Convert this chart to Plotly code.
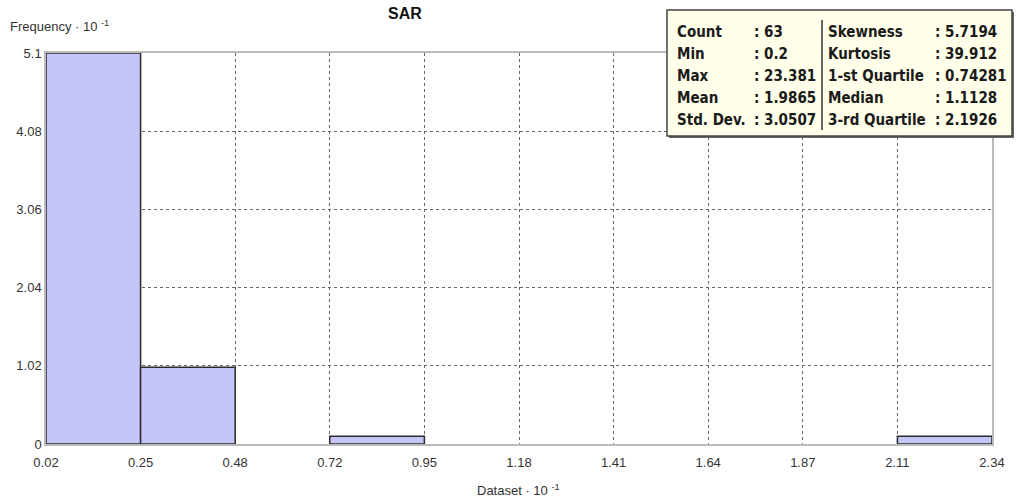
import plotly.graph_objects as go

# ---- data (units of 10^-1) ----
bin_edges = [0.02, 0.25181, 0.48362, 0.71543, 0.94724, 1.17905, 1.41086, 1.64267, 1.87448, 2.10629, 2.3381]
frequencies = [5.1, 1.0, 0.0, 0.1, 0.0, 0.0, 0.0, 0.0, 0.0, 0.1]
x_tick_labels = ["0.02", "0.25", "0.48", "0.72", "0.95", "1.18", "1.41", "1.64", "1.87", "2.11", "2.34"]
y_tick_vals = [0, 1.02, 2.04, 3.06, 4.08, 5.1]
y_tick_labels = ["0", "1.02", "2.04", "3.06", "4.08", "5.1"]

stat_names_left = ["Count", "Min", "Max", "Mean", "Std. Dev."]
stat_values_left = ["63", "0.2", "23.381", "1.9865", "3.0507"]
stat_names_right = ["Skewness", "Kurtosis", "1-st Quartile", "Median", "3-rd Quartile"]
stat_values_right = ["5.7194", "39.912", "0.74281", "1.1128", "2.1926"]

# ---- figure geometry ----
W, H = 1016, 503
L, R, T, B = 46, 24, 53, 59
pw, ph = W - L - R, H - T - B


def px(xp):
    return (xp - L) / pw


def py(yp):
    return (H - B - yp) / ph


centers, widths, heights = [], [], []
for i, f in enumerate(frequencies):
    if f > 0:
        centers.append((bin_edges[i] + bin_edges[i + 1]) / 2)
        widths.append(bin_edges[i + 1] - bin_edges[i])
        heights.append(f)

fig = go.Figure(go.Bar(
    x=centers, y=heights, width=widths,
    marker=dict(color="#c5c5fa", line=dict(color="#2a2a2a", width=1.5)),
    hoverinfo="skip",
))

FONT = "Liberation Sans"
fig.update_layout(
    width=W, height=H,
    margin=dict(l=L, r=R, t=T, b=B),
    paper_bgcolor="white", plot_bgcolor="white",
    showlegend=False,
    font=dict(family=FONT, size=13, color="#333333"),
    xaxis=dict(
        range=[bin_edges[0], bin_edges[-1]],
        tickmode="array", tickvals=bin_edges, ticktext=x_tick_labels,
        showgrid=True, gridcolor="#666666", griddash="dot", gridwidth=1,
        showline=True, linecolor="#bbbbbb", linewidth=1.5, mirror=True,
        ticks="", zeroline=False, tickfont=dict(size=13, color="#333333"),
        ticklabelstandoff=6,
    ),
    yaxis=dict(
        range=[0, 5.1],
        tickmode="array", tickvals=y_tick_vals, ticktext=y_tick_labels,
        showgrid=True, gridcolor="#666666", griddash="dot", gridwidth=1,
        showline=True, linecolor="#bbbbbb", linewidth=1.5, mirror=True,
        ticks="", zeroline=False, tickfont=dict(size=13, color="#333333"),
    ),
)

annotations = [
    dict(text="<b>SAR</b>", x=px(405), y=py(13), xref="paper", yref="paper",
         xanchor="center", yanchor="middle", showarrow=False,
         font=dict(size=16, color="#111111", family=FONT)),
    dict(text="Frequency · 10 <sup>-1</sup>", x=px(8), y=py(26), xref="paper", yref="paper",
         xanchor="left", yanchor="middle", showarrow=False,
         font=dict(size=13, color="#333333", family=FONT)),
    dict(text="Dataset · 10 <sup>-1</sup>", x=px(518), y=py(490), xref="paper", yref="paper",
         xanchor="center", yanchor="middle", showarrow=False,
         font=dict(size=13, color="#333333", family=FONT)),
]

# stats box
bx0, bx1, by0, by1 = 667, 1012, 10, 136
shapes = [
    dict(type="rect", xref="paper", yref="paper", x0=px(bx0 + 2), x1=px(bx1 + 2), y0=py(by1 + 2), y1=py(by0 + 2),
         fillcolor="#666666", line=dict(width=0), layer="above"),
    dict(type="rect", xref="paper", yref="paper", x0=px(bx0), x1=px(bx1), y0=py(by1), y1=py(by0),
         fillcolor="#ffffea", line=dict(color="#444444", width=1.5), layer="above"),
    dict(type="line", xref="paper", yref="paper", x0=px(822), x1=px(822), y0=py(130), y1=py(20),
         line=dict(color="#333333", width=1.5), layer="above"),
]

row_y = [32, 54, 76, 98, 120]
sfont = dict(size=15, color="#1a1a1a", family="DejaVu Sans Condensed, DejaVu Sans")
for i in range(5):
    for xpos, txt in [(675, stat_names_left[i]), (752, ": " + stat_values_left[i]),
                      (826, stat_names_right[i]), (933, ": " + stat_values_right[i])]:
        annotations.append(dict(text="<b>" + txt + "</b>", x=px(xpos), y=py(row_y[i]),
                                xref="paper", yref="paper", xanchor="left", yanchor="middle",
                                showarrow=False, font=sfont))

fig.update_layout(shapes=shapes, annotations=annotations)
fig.write_html("out.html")
